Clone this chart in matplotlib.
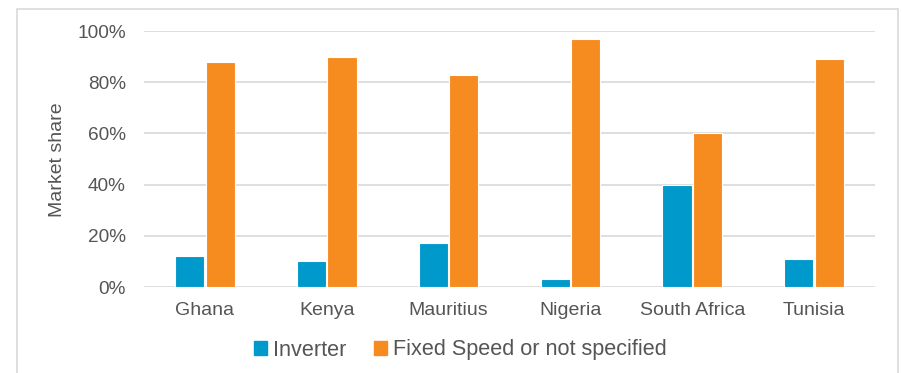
import numpy as np
import matplotlib
matplotlib.use("Agg")
import matplotlib.pyplot as plt
import matplotlib.patches as mpatches
from matplotlib.ticker import PercentFormatter

# Market share of room air conditioners by compressor type
countries = ["Ghana", "Kenya", "Mauritius", "Nigeria", "South Africa", "Tunisia"]
inverter = [12, 10, 17, 3, 40, 11]
fixed_speed = [88, 90, 83, 97, 60, 89]
series_names = ["Inverter", "Fixed Speed or not specified"]

BLUE = "#0099cc"
ORANGE = "#f68b1f"
TEXT = "#555555"
GRID = "#d9d9d9"

plt.rcParams.update({
    "font.family": ["Liberation Sans", "DejaVu Sans"],
    "text.color": TEXT,
    "xtick.color": TEXT,
    "ytick.color": TEXT,
})

fig = plt.figure(figsize=(9.02, 3.73), dpi=100)
fig.patch.set_facecolor("white")

# outer chart frame
fig.patches.append(mpatches.Rectangle(
    (17 / 902, -0.1), 881 / 902, 1.1 - 9 / 373,
    transform=fig.transFigure, fill=False, edgecolor=GRID, lw=1.2))

ax = fig.add_axes([144 / 902, 1 - 287 / 373, 731 / 902, 256 / 373])

x = np.arange(len(countries))
w = 0.24
ax.bar(x - 0.125, inverter, w, color=BLUE, edgecolor="white", lw=0.8,
       label=series_names[0], zorder=3)
ax.bar(x + 0.125, fixed_speed, w, color=ORANGE, edgecolor="white", lw=0.8,
       label=series_names[1], zorder=3)

ax.set_xlim(-0.5, len(countries) - 0.5)
ax.set_ylim(0, 100)
ax.set_yticks(np.arange(0, 101, 20))
ax.yaxis.set_major_formatter(PercentFormatter(decimals=0))
ax.set_xticks(x)
ax.set_xticklabels(countries)
ax.tick_params(axis="x", length=0, pad=11, labelsize=14)
ax.tick_params(axis="y", length=0, pad=13, labelsize=13.7)

ax.grid(axis="y", color=GRID, lw=1.2, zorder=0)
for s in ax.spines.values():
    s.set_visible(False)

fig.text(58 / 902, 1 - 159.5 / 373, "Market share", rotation=90,
         ha="center", va="center", fontsize=14, color=TEXT)

handles = [mpatches.Patch(color=BLUE), mpatches.Patch(color=ORANGE)]
fig.legend(handles, series_names, loc="center", bbox_to_anchor=(0.5105, 1 - 350 / 373),
           ncol=2, frameon=False, fontsize=15.6, handlelength=0.58, handleheight=0.58,
           handletextpad=0.28, columnspacing=1.3)

fig.savefig("out.png", dpi=100)
